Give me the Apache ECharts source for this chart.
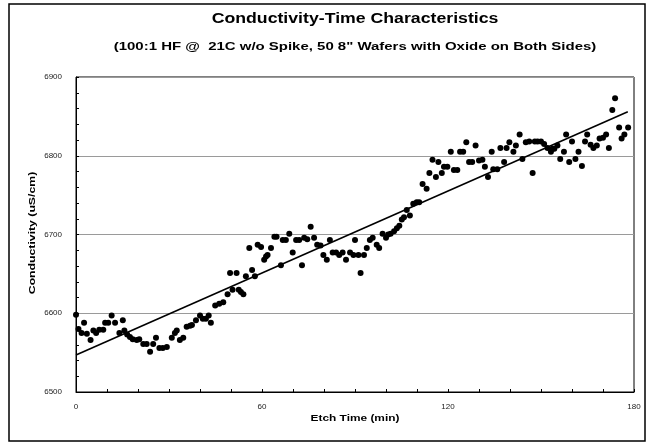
<!DOCTYPE html>
<html>
<head>
<meta charset="utf-8">
<script src="https://cdn.jsdelivr.net/npm/echarts@6/dist/echarts.min.js"></script>
<style>
html,body{margin:0;padding:0;background:#fff;}
#chart{width:655px;height:447px;}
</style>
</head>
<body>
<div id="chart"></div>
<script>
// Etch time (min) of each measurement
const times = [
 0.0,0.8,1.8,2.6,3.5,4.7,5.6,6.5,7.5,8.8,9.4,10.4,11.5,12.6,14.0,15.1,15.6,16.5,17.4,18.3,
 19.6,20.4,21.7,22.8,23.9,24.9,25.8,26.9,28.0,29.3,30.9,31.9,32.5,33.5,34.6,35.7,36.8,37.4,38.7,40.0,
 40.9,41.9,42.8,43.5,44.9,46.2,47.5,48.9,49.7,50.5,51.8,52.5,53.2,54.0,54.8,55.9,56.8,57.7,58.6,59.7,
 60.7,61.3,61.8,62.9,64.0,64.7,66.1,66.7,67.7,68.8,69.9,71.0,72.0,72.9,73.6,74.6,75.7,76.8,77.8,78.9,
 79.8,80.9,81.9,82.8,83.9,84.9,86.0,87.1,88.4,89.5,90.0,91.1,91.8,92.9,93.8,94.8,95.7,97.0,97.8,98.9,
 100.0,100.7,101.5,102.6,103.5,104.3,105.1,105.8,106.7,107.7,108.8,109.9,110.7,111.8,113.1,114.0,115.0,116.1,116.9,118.0,
 118.7,119.8,120.9,121.9,123.0,123.9,124.9,125.9,126.8,127.8,128.9,130.0,131.1,131.9,132.9,134.1,134.6,135.9,136.9,138.1,
 138.9,139.8,141.1,141.9,143.1,144.0,145.1,146.2,147.3,148.0,148.9,150.0,151.0,152.1,153.2,153.7,154.3,155.3,156.2,157.4,
 158.1,159.1,160.0,161.1,162.1,163.2,164.2,164.9,166.0,166.9,168.0,168.9,170.0,171.0,171.9,173.0,173.9,175.2,176.0,176.9,
 178.1
];
// Conductivity (uS/cm)
const conductivity = [
 6598,6580,6575,6588,6574,6566,6578,6575,6579,6579,6588,6588,6597,6588,6575,6591,6578,6573,6570,6567,
 6566,6567,6561,6561,6551,6561,6569,6556,6556,6557,6569,6575,6578,6566,6569,6583,6584,6585,6591,6597,
 6593,6593,6597,6588,6610,6612,6614,6624,6651,6630,6651,6630,6627,6624,6647,6683,6655,6647,6687,6684,
 6668,6672,6674,6683,6697,6697,6661,6693,6693,6701,6677,6693,6693,6661,6696,6694,6710,6696,6687,6686,
 6674,6668,6693,6677,6677,6674,6677,6668,6677,6674,6693,6674,6651,6674,6683,6693,6696,6687,6683,6701,
 6696,6700,6701,6704,6708,6711,6719,6722,6731,6724,6739,6741,6741,6764,6758,6778,6795,6773,6792,6778,
 6786,6786,6805,6782,6782,6805,6805,6817,6792,6792,6813,6794,6795,6786,6773,6805,6783,6783,6810,6792,
 6810,6817,6805,6813,6827,6796,6817,6818,6778,6818,6818,6818,6815,6810,6805,6809,6809,6813,6796,6805,
 6827,6792,6818,6796,6805,6787,6818,6827,6814,6810,6813,6822,6823,6827,6810,6858,6873,6836,6822,6827,
 6836
];
// Linear trend line end points
const trendTimes = [0, 178];
const trendValues = [6547, 6856];

const xTicks = [0, 60, 120, 180];
const yTicks = [6500, 6600, 6700, 6800, 6900];

const titleText = 'Conductivity-Time Characteristics';
const subtitleText = '(100:1 HF @  21C w/o Spike, 50 8" Wafers with Oxide on Both Sides)';
const xName = 'Etch Time (min)';
const yName = 'Conductivity (uS/cm)';

const scatterData = times.map((t, i) => [t, conductivity[i]]);
const trendData = trendTimes.map((t, i) => [t, trendValues[i]]);

const font = 'Liberation Sans, Arial, sans-serif';
function label(text, x, y, size, sx, rot) {
  return {type: 'text', x: x, y: y, scaleX: sx, rotation: rot || 0, silent: true, z: 50,
    style: {text: text, fill: '#000', font: 'bold ' + size + 'px ' + font,
            align: 'center', verticalAlign: 'middle'}};
}
const chart = echarts.init(document.getElementById('chart'), null, {renderer: 'canvas'});
chart.setOption({
  animation: false,
  backgroundColor: '#fff',
  graphic: [
    {type: 'rect', shape: {x: 9, y: 4, width: 636, height: 437},
     style: {fill: 'none', stroke: '#000', lineWidth: 1.5}, silent: true, z: 100},
    label(titleText, 355, 19, 14.5, 1.22),
    label(subtitleText, 355, 47, 11, 1.36),
    label(xName, 355, 419, 9, 1.32),
    label(yName, 33, 233, 9, 1.36, Math.PI / 2)
  ],
  grid: {left: 76, right: 21, top: 77, bottom: 55, show: true, borderColor: '#000', borderWidth: 1, containLabel: false},
  xAxis: {
    type: 'value', min: xTicks[0], max: xTicks[xTicks.length - 1], interval: 60,
    axisLine: {show: true, lineStyle: {color: '#000', width: 1}},
    axisTick: {show: true, inside: true, length: 3, lineStyle: {color: '#000'}},
    minorTick: {show: true, splitNumber: 6, length: 3, lineStyle: {color: '#000'}},
    axisLabel: {fontFamily: font, fontSize: 8, color: '#222', margin: 11},
    splitLine: {show: false}
  },
  yAxis: {
    type: 'value', min: yTicks[0], max: yTicks[yTicks.length - 1], interval: 100,
    axisLine: {show: true, lineStyle: {color: '#000', width: 1}},
    axisTick: {show: true, inside: true, length: 3, lineStyle: {color: '#000'}},
    minorTick: {show: true, splitNumber: 5, length: 3, lineStyle: {color: '#000'}},
    axisLabel: {fontFamily: font, fontSize: 8, color: '#222', margin: 14, formatter: v => String(v)},
    splitLine: {show: true, lineStyle: {color: '#9a9a9a', width: 1}}
  },
  series: [
    {type: 'scatter', data: scatterData, symbol: 'circle', symbolSize: 6,
     itemStyle: {color: '#000', opacity: 1}, z: 3},
    {type: 'line', data: trendData, symbol: 'none', lineStyle: {color: '#000', width: 1.6}, z: 4}
  ]
});
</script>
</body>
</html>
